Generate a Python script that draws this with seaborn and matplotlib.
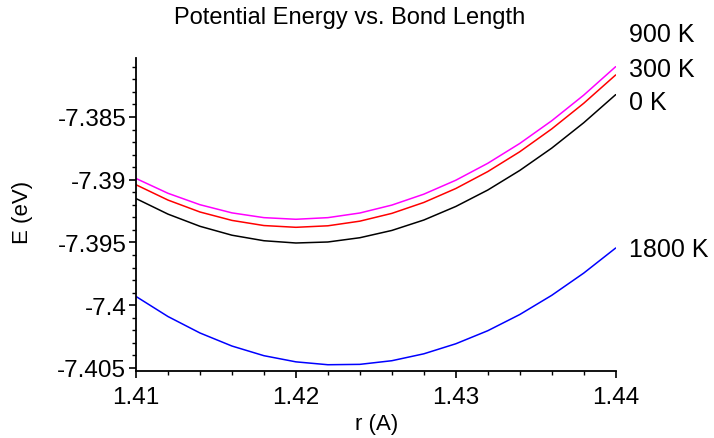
import matplotlib
matplotlib.use("Agg")
import matplotlib.pyplot as plt
from matplotlib.ticker import MultipleLocator, FuncFormatter
import numpy as np
import pandas as pd
import seaborn as sns

# Bond length grid (Angstrom)
r_values = [1.410, 1.412, 1.414, 1.416, 1.418, 1.420, 1.422, 1.424,
            1.426, 1.428, 1.430, 1.432, 1.434, 1.436, 1.438, 1.440]

# Potential energy per atom (eV) at each temperature
e_0K = [-7.39150, -7.39274, -7.39371, -7.39442, -7.39486, -7.39504, -7.39496, -7.39462,
        -7.39404, -7.39321, -7.39213, -7.39082, -7.38926, -7.38748, -7.38546, -7.38322]
e_300K = [-7.39040, -7.39162, -7.39257, -7.39324, -7.39365, -7.39379, -7.39367, -7.39330,
          -7.39268, -7.39181, -7.39070, -7.38935, -7.38777, -7.38595, -7.38391, -7.38165]
e_900K = [-7.38990, -7.39108, -7.39199, -7.39264, -7.39302, -7.39315, -7.39302, -7.39265,
          -7.39202, -7.39115, -7.39004, -7.38869, -7.38711, -7.38530, -7.38326, -7.38099]
e_1800K = [-7.39930, -7.40090, -7.40221, -7.40325, -7.40402, -7.40451, -7.40474, -7.40471,
           -7.40442, -7.40387, -7.40307, -7.40203, -7.40074, -7.39921, -7.39744, -7.39544]

temperatures = ["0 K", "300 K", "900 K", "1800 K"]
line_colors = ["#000000", "#ff0000", "#ff00ff", "#0000ff"]

series = {"0 K": e_0K, "300 K": e_300K, "900 K": e_900K, "1800 K": e_1800K}
df = pd.concat(
    [pd.DataFrame({"r": r_values, "E": vals, "T": name}) for name, vals in series.items()],
    ignore_index=True,
)

sns.set_theme(style="ticks")
plt.rcParams["font.family"] = ["Liberation Sans", "DejaVu Sans"]
plt.rcParams["axes.unicode_minus"] = False

fig = plt.figure(figsize=(7.14, 4.39), dpi=100)
ax = fig.add_axes([0.1905, 0.1526, 0.6718, 0.7130])

sns.lineplot(data=df, x="r", y="E", hue="T", hue_order=temperatures,
             palette=dict(zip(temperatures, line_colors)),
             linewidth=1.1, legend=False, ax=ax, estimator=None, sort=False)

ax.set_xlim(1.41, 1.44)
ax.set_ylim(-7.40524, -7.38030)

ax.xaxis.set_major_locator(MultipleLocator(0.01))
ax.xaxis.set_minor_locator(MultipleLocator(0.002))
ax.yaxis.set_major_locator(MultipleLocator(0.005))
ax.yaxis.set_minor_locator(MultipleLocator(0.001))
fmt = FuncFormatter(lambda v, pos: f"{v:g}")
ax.xaxis.set_major_formatter(fmt)
ax.yaxis.set_major_formatter(fmt)

for side in ("top", "right"):
    ax.spines[side].set_visible(False)
for side in ("left", "bottom"):
    ax.spines[side].set_linewidth(1.3)
    ax.spines[side].set_color("black")

ax.tick_params(axis="both", which="major", length=5, width=1.2, color="black",
               labelsize=17.5, labelcolor="black")
ax.tick_params(axis="x", which="major", pad=6)
ax.tick_params(axis="y", which="major", pad=2)
ax.tick_params(axis="both", which="minor", length=3, width=1.0, color="black")

# Keep the first x tick label clear of the y axis labels
fig.canvas.draw()
first = ax.get_xticklabels()[0]
first.set_horizontalalignment("left")

ax.set_xlabel("r (A)", fontsize=16, color="black", va="center")
ax.xaxis.set_label_coords(0.502, -0.168)
ax.set_ylabel("E (eV)", fontsize=16, color="black", va="center")
ax.yaxis.set_label_coords(-0.236, 0.51)

fig.text(350 / 714, 1 - 18 / 439, "Potential Energy vs. Bond Length",
         fontsize=17, color="black", ha="center", va="center")

# Temperature labels beside the right-hand ends of the curves
label_x = 1.44081
label_y = {"900 K": -7.37839, "300 K": -7.38118, "0 K": -7.38380, "1800 K": -7.39552}
for name, y in label_y.items():
    ax.text(label_x, y, name, fontsize=18, color="black", va="center", ha="left",
            clip_on=False)

fig.savefig("out.png", dpi=100, facecolor="white")
